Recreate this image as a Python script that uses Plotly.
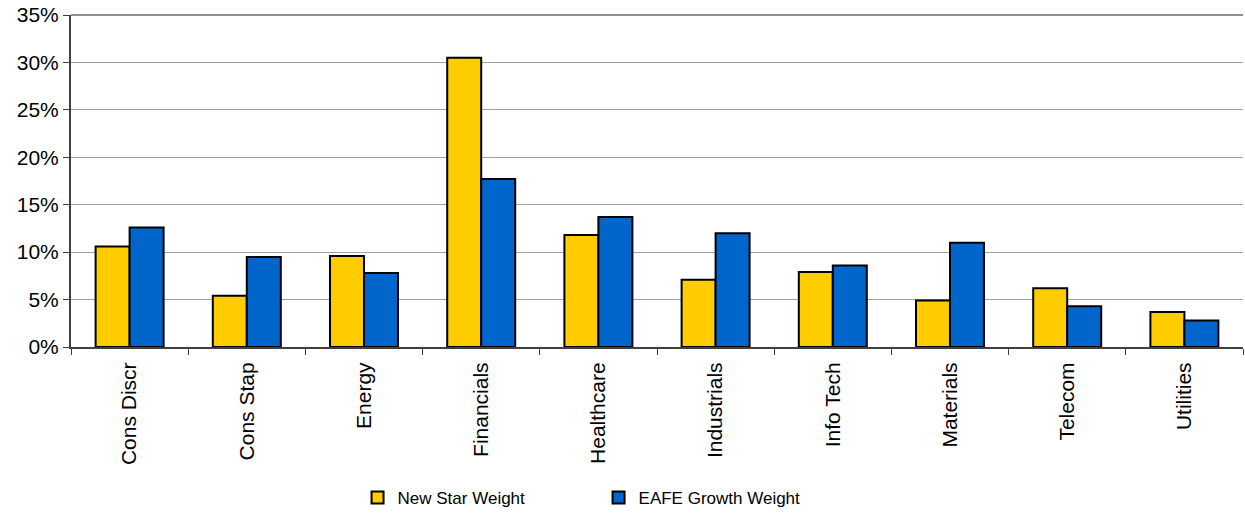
import plotly.graph_objects as go

categories = ["Cons Discr", "Cons Stap", "Energy", "Financials", "Healthcare",
              "Industrials", "Info Tech", "Materials", "Telecom", "Utilities"]
new_star = [10.6, 5.4, 9.6, 30.5, 11.8, 7.1, 7.9, 4.9, 6.2, 3.7]
eafe_growth = [12.6, 9.5, 7.8, 17.7, 13.7, 12.0, 8.6, 11.0, 4.3, 2.8]
y_ticks = [0, 5, 10, 15, 20, 25, 30, 35]
y_tick_text = [f"{v}%" for v in y_ticks]

FONT = "Liberation Sans, Arial, sans-serif"

fig = go.Figure()
fig.add_trace(go.Bar(name="New Star Weight", x=categories, y=new_star,
                     marker=dict(color="#FFCC00", line=dict(color="black", width=2))))
fig.add_trace(go.Bar(name="EAFE Growth Weight", x=categories, y=eafe_growth,
                     marker=dict(color="#0066CC", line=dict(color="black", width=2))))

fig.update_layout(
    width=1245, height=513,
    margin=dict(l=71, r=2, t=15, b=166),
    plot_bgcolor="white", paper_bgcolor="white",
    barmode="group", bargap=0.42, bargroupgap=0,
    font=dict(family=FONT, color="black", size=21),
    showlegend=True,
    legend=dict(orientation="h", x=0.2445, xanchor="left",
                yref="container", y=1 - 498 / 513, yanchor="middle",
                font=dict(family=FONT, size=17),
                entrywidth=196, entrywidthmode="pixels",
                bgcolor="rgba(0,0,0,0)"),
)
fig.update_xaxes(
    type="category", tickangle=-90, tickson="boundaries", automargin=False,
    ticks="outside", ticklen=6, tickcolor="#404040", tickwidth=1,
    showline=True, linecolor="#404040", linewidth=2,
    showgrid=False, tickfont=dict(size=21), ticklabelstandoff=5,
)
fig.update_yaxes(
    range=[0, 35], tickvals=y_ticks, ticktext=y_tick_text, automargin=False,
    ticks="outside", ticklen=6, tickcolor="#404040", tickwidth=1,
    showline=True, linecolor="#404040", linewidth=2,
    showgrid=True, gridcolor="#A0A0A0", gridwidth=1,
    zeroline=False, tickfont=dict(size=21),
)
fig.add_shape(type="line", xref="paper", yref="paper", x0=0, x1=1, y0=1, y1=1,
              line=dict(color="#909090", width=2))

fig.write_html("out.html", config={"displayModeBar": False},
               post_script="document.body.style.margin='0';document.body.style.overflow='hidden';")
